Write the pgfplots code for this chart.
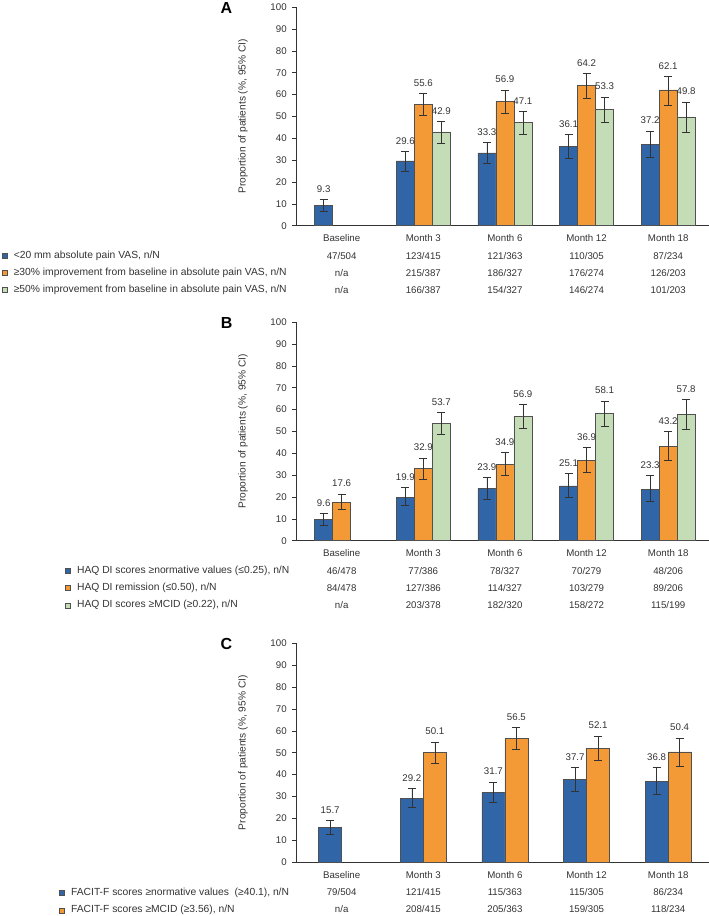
\documentclass[border=0pt]{standalone}
\usepackage{fontspec}
\setmainfont{Liberation Sans}
\usepackage{pgfplots}
\usepackage{pgfplotstable}
\pgfplotsset{compat=1.18}
\definecolor{cblue}{HTML}{3066A8}
\definecolor{corange}{HTML}{F39A36}
\definecolor{cgreen}{HTML}{C4DDB6}
\definecolor{cedge}{HTML}{505050}
\definecolor{ctext}{HTML}{333333}

% Panel A
\pgfplotstableread{
x y ep em
0 9.3 2.8 2.5
1 29.6 4.4 4.6
2 33.3 4.8 4.8
3 36.1 5.5 5.1
4 37.2 6.2 6.1
}\Ablue
\pgfplotstableread{
x y ep em
1 55.6 4.8 5.0
2 56.9 5.2 5.5
3 64.2 5.5 6.1
4 62.1 6.2 7.0
}\Aorange
\pgfplotstableread{
x y ep em
1 42.9 4.9 5.0
2 47.1 5.3 5.5
3 53.3 5.6 6.1
4 49.8 6.8 7.0
}\Agreen
% Panel B
\pgfplotstableread{
x y ep em
0 9.6 2.9 2.6
1 19.9 4.4 3.9
2 23.9 5.0 4.8
3 25.1 5.6 5.1
4 23.3 6.5 5.3
}\Bblue
\pgfplotstableread{
x y ep em
0 17.6 3.8 3.2
1 32.9 5.0 4.7
2 34.9 5.4 5.0
3 36.9 5.8 5.4
4 43.2 6.7 6.6
}\Borange
\pgfplotstableread{
x y ep em
1 53.7 5.1 5.2
2 56.9 5.5 5.3
3 58.1 5.9 5.9
4 57.8 6.9 7.0
}\Bgreen
% Panel C
\pgfplotstableread{
x y ep em
0 15.7 3.3 3.1
1 29.2 4.5 4.2
2 31.7 4.9 4.4
3 37.7 5.7 5.3
4 36.8 6.5 5.9
}\Cblue
\pgfplotstableread{
x y ep em
1 50.1 4.8 4.8
2 56.5 5.1 5.1
3 52.1 5.6 5.6
4 50.4 6.4 6.4
}\Corange

\pgfplotsset{
  panel/.style={
    scale only axis, width=412.3pt, height=218.6pt,
    xmin=-0.551, xmax=4.5, ymin=0, ymax=100,
    axis x line=bottom, axis y line=left,
    axis line style={-, draw=ctext, line width=0.6pt},
    ytick={0,10,...,100}, xtick={0,1,2,3,4},
    tick align=outside, major tick length=5pt,
    tick style={draw=ctext, line width=0.6pt},
    x tick style={draw=none},
    /pgf/number format/assume math mode=true,
    ticklabel style={font=\fontsize{9.7}{10}\selectfont, text=ctext},
    yticklabel style={xshift=-1.5pt},
    xticklabel style={align=center, font=\fontsize{9.7}{17.2}\selectfont, yshift=-0.6pt},
    ylabel={Proportion of patients (\%, 95\% CI)},
    ylabel style={at={(axis description cs:-0.1302,0.5)}, anchor=center, font=\fontsize{10.2}{11}\selectfont, text=ctext},
    ybar, bar width=18pt,
    every axis plot/.append style={draw=cedge, line width=0.6pt},
    error bars/y dir=both, error bars/y explicit,
    error bars/error bar style={draw=ctext, line width=0.6pt},
    error bars/error mark options={rotate=90, mark size=4pt, draw=ctext, line width=0.6pt},
    visualization depends on={\thisrow{ep} \as \ep},
    nodes near coords,
    nodes near coords style={font=\fontsize{9.7}{10}\selectfont, text=ctext, yshift=\ep*2.186pt+3.3pt},
    legend cell align=left,
    legend image code/.code={\draw[#1, line width=0.5pt] (0pt,-2.5pt) rectangle (5pt,2.5pt);},
    legend style={anchor=north west, draw=none, fill=none, inner sep=0pt, outer sep=0pt,
      row sep=8.9pt, font=\fontsize{10.3}{11}\selectfont, text=ctext,
      nodes={inner sep=0pt, text height=6.6pt, text depth=1.7pt},
      /tikz/every odd column/.append style={column sep=6.6pt}},
  },
}

\begin{document}
\begin{tikzpicture}
\path[use as bounding box] (0,0) rectangle (709pt,-916pt);

% ---------------- Panel A
\begin{axis}[panel, at={(296.7pt,-225.7pt)}, anchor=south west,
  xticklabels={{Baseline\\47/504\\n/a\\n/a},{Month 3\\123/415\\215/387\\166/387},{Month 6\\121/363\\186/327\\154/327},{Month 12\\110/305\\176/274\\146/274},{Month 18\\87/234\\126/203\\101/203}},
  legend style={at={(axis description cs:-0.7155,-0.1189)}},
]
\addplot[fill=cblue, bar shift=-18pt] table[x=x, y=y, y error plus=ep, y error minus=em] {\Ablue};
\addlegendentry{<20 mm absolute pain VAS, n/N}
\addplot[fill=corange, bar shift=0pt] table[x=x, y=y, y error plus=ep, y error minus=em] {\Aorange};
\addlegendentry{≥30\% improvement from baseline in absolute pain VAS, n/N}
\addplot[fill=cgreen, bar shift=18pt] table[x=x, y=y, y error plus=ep, y error minus=em] {\Agreen};
\addlegendentry{≥50\% improvement from baseline in absolute pain VAS, n/N}
\end{axis}

% ---------------- Panel B
\begin{axis}[panel, at={(296.7pt,-540.7pt)}, anchor=south west,
  xticklabels={{Baseline\\46/478\\84/478\\n/a},{Month 3\\77/386\\127/386\\203/378},{Month 6\\78/327\\114/327\\182/320},{Month 12\\70/279\\103/279\\158/272},{Month 18\\48/206\\89/206\\115/199}},
  legend style={at={(axis description cs:-0.562,-0.119)}},
]
\addplot[fill=cblue, bar shift=-18pt] table[x=x, y=y, y error plus=ep, y error minus=em] {\Bblue};
\addlegendentry{HAQ DI scores ≥normative values (≤0.25), n/N}
\addplot[fill=corange, bar shift=0pt] table[x=x, y=y, y error plus=ep, y error minus=em] {\Borange};
\addlegendentry{HAQ DI remission (≤0.50), n/N}
\addplot[fill=cgreen, bar shift=18pt] table[x=x, y=y, y error plus=ep, y error minus=em] {\Bgreen};
\addlegendentry{HAQ DI scores ≥MCID (≥0.22), n/N}
\end{axis}

% ---------------- Panel C
\begin{axis}[panel, at={(296.7pt,-862pt)}, anchor=south west, bar width=23pt,
  xticklabels={{Baseline\\79/504\\n/a},{Month 3\\121/415\\208/415},{Month 6\\115/363\\205/363},{Month 12\\115/305\\159/305},{Month 18\\86/234\\118/234}},
  legend style={at={(axis description cs:-0.5765,-0.1236)}},
]
\addplot[fill=cblue, bar shift=-11.5pt] table[x=x, y=y, y error plus=ep, y error minus=em] {\Cblue};
\addlegendentry{FACIT-F scores ≥normative values\ \ (≥40.1), n/N}
\addplot[fill=corange, bar shift=11.5pt] table[x=x, y=y, y error plus=ep, y error minus=em] {\Corange};
\addlegendentry{FACIT-F scores ≥MCID (≥3.56), n/N}
\end{axis}

\node[font=\bfseries\fontsize{16}{17}\selectfont] at (226.5pt,-8.3pt) {A};
\node[font=\bfseries\fontsize{16}{17}\selectfont] at (226.7pt,-323pt) {B};
\node[font=\bfseries\fontsize{16}{17}\selectfont] at (226.5pt,-643.5pt) {C};
\end{tikzpicture}
\end{document}
